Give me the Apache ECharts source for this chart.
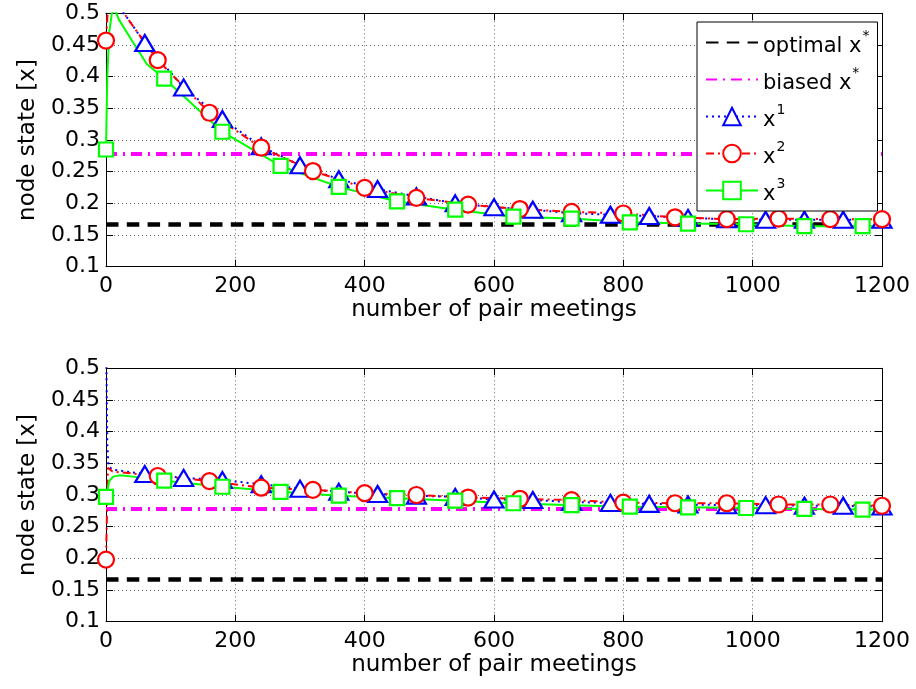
<!DOCTYPE html>
<html>
<head>
<meta charset="utf-8">
<script src="https://cdn.jsdelivr.net/npm/echarts@6/dist/echarts.min.js"></script>
<style>html,body{margin:0;padding:0;background:#fff}#c{width:916px;height:689px}</style>
</head>
<body>
<div id="c"></div>
<script>
// ---------- data ----------
const optimalValue = 0.1667;
const biasedValue = 0.278;

// top panel
const topX1x = [0, 5, 15, 30, 45, 60, 120, 180, 240, 300, 360, 420, 480, 540, 600, 660, 720, 780, 840, 900, 960, 1020, 1080, 1140, 1200];
const topX1y = [0.56, 0.53, 0.515, 0.497, 0.475, 0.453, 0.383, 0.333, 0.29, 0.26, 0.238, 0.2225, 0.211, 0.2, 0.194, 0.19, 0.1845, 0.182, 0.18, 0.177, 0.175, 0.174, 0.174, 0.174, 0.174];
const topX2x = [0, 3, 10, 20, 30, 45, 80, 160, 240, 320, 400, 480, 560, 640, 720, 800, 880, 960, 1040, 1120, 1200];
const topX2y = [0.457, 0.51, 0.525, 0.512, 0.497, 0.475, 0.426, 0.343, 0.288, 0.251, 0.2245, 0.2087, 0.198, 0.191, 0.1866, 0.184, 0.178, 0.175, 0.176, 0.175, 0.175];
const topX3x = [0, 2, 5, 9, 14, 20, 40, 63, 90, 180, 270, 360, 450, 540, 630, 720, 810, 900, 990, 1080, 1170, 1200];
const topX3y = [0.285, 0.4, 0.47, 0.5, 0.505, 0.49, 0.457, 0.42, 0.397, 0.313, 0.259, 0.226, 0.203, 0.19, 0.179, 0.176, 0.17, 0.168, 0.167, 0.164, 0.164, 0.164];

// bottom panel
const botX1x = [0, 2, 4, 10, 60, 120, 180, 240, 300, 360, 420, 480, 540, 600, 660, 720, 780, 840, 900, 960, 1020, 1080, 1140, 1200];
const botX1y = [0.56, 0.38, 0.345, 0.34, 0.333, 0.327, 0.3235, 0.317, 0.31, 0.305, 0.3015, 0.299, 0.297, 0.293, 0.292, 0.289, 0.2875, 0.286, 0.285, 0.284, 0.284, 0.283, 0.283, 0.282];
const botX2x = [0, 3, 10, 40, 80, 160, 240, 320, 400, 480, 560, 640, 720, 800, 880, 960, 1040, 1120, 1200];
const botX2y = [0.198, 0.343, 0.337, 0.334, 0.33, 0.322, 0.3115, 0.308, 0.303, 0.3, 0.296, 0.294, 0.292, 0.288, 0.287, 0.287, 0.285, 0.285, 0.283];
const botX3x = [0, 5, 11, 21, 42, 90, 180, 270, 360, 450, 540, 630, 720, 810, 900, 990, 1080, 1170, 1200];
const botX3y = [0.297, 0.322, 0.329, 0.331, 0.329, 0.3226, 0.313, 0.305, 0.299, 0.295, 0.291, 0.287, 0.284, 0.2815, 0.2805, 0.2795, 0.278, 0.277, 0.277];

const xMin = 0, xMax = 1200, xStep = 200;
const yMin = 0.1, yMax = 0.5, yStep = 0.05;

const names = ['optimal x*', 'biased x*', 'x1', 'x2', 'x3'];
const xTitle = 'number of pair meetings';
const yTitle = 'node state [x]';

// ---------- chart ----------
const FONT = 'DejaVu Sans';
const markerEvery = { x1: 60, x2: 80, x3: 90 };

function pts(xs, ys, step, skipZero) {
  return xs.map((x, i) => {
    const isMarker = x % step === 0 && !(skipZero && x === 0);
    return isMarker ? { value: [x, ys[i]] } : { value: [x, ys[i]], symbol: 'none' };
  });
}

const gridDefs = [
  { left: 106, top: 13.3, width: 776, height: 253.4 },
  { left: 106, top: 368.3, width: 776, height: 253.4 }
];

const xAxes = [], yAxes = [];
gridDefs.forEach((g, gi) => {
  xAxes.push({
    gridIndex: gi, type: 'value', min: xMin, max: xMax, interval: xStep,
    name: xTitle, nameLocation: 'middle', nameGap: 32,
    nameTextStyle: { fontFamily: FONT, fontSize: 23, color: '#000' },
    axisLine: { show: true, onZero: false, lineStyle: { color: '#000', width: 1 } },
    axisTick: { inside: true, length: 7, lineStyle: { color: '#000' } },
    axisLabel: { fontFamily: FONT, fontSize: 22, color: '#000', margin: 9, formatter: v => String(v) },
    splitLine: { show: true, lineStyle: { color: '#666', type: [1, 3], width: 1 } }
  });
  xAxes.push({
    gridIndex: gi, type: 'value', min: xMin, max: xMax, interval: xStep, position: 'top',
    axisLine: { show: true, onZero: false, lineStyle: { color: '#000', width: 1 } },
    axisTick: { inside: true, length: 7, lineStyle: { color: '#000' } },
    axisLabel: { show: false }, splitLine: { show: false }
  });
  yAxes.push({
    gridIndex: gi, type: 'value', min: yMin, max: yMax, interval: yStep,
    name: yTitle, nameLocation: 'middle', nameGap: 66, nameRotate: 90,
    nameTextStyle: { fontFamily: FONT, fontSize: 23, color: '#000' },
    axisLine: { show: true, onZero: false, lineStyle: { color: '#000', width: 1 } },
    axisTick: { inside: true, length: 7, lineStyle: { color: '#000' } },
    axisLabel: { fontFamily: FONT, fontSize: 22, color: '#000', margin: 6,
      formatter: v => String(parseFloat(v.toFixed(2))) },
    splitLine: { show: true, lineStyle: { color: '#666', type: [1, 3], width: 1 } }
  });
  yAxes.push({
    gridIndex: gi, type: 'value', min: yMin, max: yMax, interval: yStep, position: 'right',
    axisLine: { show: true, onZero: false, lineStyle: { color: '#000', width: 1 } },
    axisTick: { inside: true, length: 7, lineStyle: { color: '#000' } },
    axisLabel: { show: false }, splitLine: { show: false }
  });
});

const panels = [
  { x1: [topX1x, topX1y], x2: [topX2x, topX2y], x3: [topX3x, topX3y] },
  { x1: [botX1x, botX1y], x2: [botX2x, botX2y], x3: [botX3x, botX3y] }
];

const series = [];
panels.forEach((p, gi) => {
  const ax = { xAxisIndex: gi * 2, yAxisIndex: gi * 2 };
  series.push(Object.assign({
    name: names[0], type: 'line', symbol: 'none', clip: true,
    data: [[xMin, optimalValue], [xMax, optimalValue]],
    lineStyle: { color: '#000', width: 4.5, type: [12.5, 8.3] },
    itemStyle: { color: 'rgba(0,0,0,0)', borderWidth: 0 }
  }, ax));
  series.push(Object.assign({
    name: names[1], type: 'line', symbol: 'none', clip: true,
    data: [[xMin, biasedValue], [xMax, biasedValue]],
    lineStyle: { color: '#ff00ff', width: 4, type: [11, 6, 2, 6] },
    itemStyle: { color: 'rgba(0,0,0,0)', borderWidth: 0 }
  }, ax));
  series.push(Object.assign({
    name: names[2], type: 'line', clip: true, showSymbol: true, showAllSymbol: true,
    symbol: 'triangle', symbolSize: [19, 16],
    data: pts(p.x1[0], p.x1[1], markerEvery.x1, true),
    lineStyle: { color: '#0000ff', width: 2, type: [2, 4] },
    itemStyle: { color: '#fff', borderColor: '#0000ff', borderWidth: 2.2 }
  }, ax));
  series.push(Object.assign({
    name: names[3], type: 'line', clip: true, showSymbol: true, showAllSymbol: true,
    symbol: 'circle', symbolSize: 16,
    data: pts(p.x2[0], p.x2[1], markerEvery.x2, false),
    lineStyle: { color: '#ff0000', width: 2, type: [8, 4, 2, 4] },
    itemStyle: { color: '#fff', borderColor: '#ff0000', borderWidth: 2.2 }
  }, ax));
  series.push(Object.assign({
    name: names[4], type: 'line', clip: true, showSymbol: true, showAllSymbol: true,
    symbol: 'rect', symbolSize: 14,
    data: pts(p.x3[0], p.x3[1], markerEvery.x3, false),
    lineStyle: { color: '#00ff00', width: 2 },
    itemStyle: { color: '#fff', borderColor: '#00ff00', borderWidth: 2.2 }
  }, ax));
});

const legendLabel = {
  'optimal x*': '{m|optimal x}{s|*}',
  'biased x*': '{m|biased x}{s|*}',
  'x1': '{m|x}{s|1}',
  'x2': '{m|x}{s|2}',
  'x3': '{m|x}{s|3}'
};

const chart = echarts.init(document.getElementById('c'), null, { renderer: 'canvas' });
chart.setOption({
  animation: false,
  backgroundColor: '#fff',
  grid: gridDefs,
  xAxis: xAxes,
  yAxis: yAxes,
  legend: {
    orient: 'vertical', left: 697, top: 22,
    padding: [6, 8, 6, 8], itemGap: 8, itemWidth: 52, itemHeight: 22,
    backgroundColor: '#fff', borderColor: '#000', borderWidth: 1,
    selectedMode: false,
    data: names,
    formatter: n => legendLabel[n],
    textStyle: {
      fontFamily: FONT, fontSize: 21, color: '#000',
      rich: {
        m: { fontFamily: FONT, fontSize: 21, lineHeight: 21, color: '#000', padding: [8, 0, 0, 0] },
        s: { fontFamily: FONT, fontSize: 14, lineHeight: 14, color: '#000', padding: [0, 0, 12, 1] }
      }
    }
  },
  series: series
});
</script>
</body>
</html>
